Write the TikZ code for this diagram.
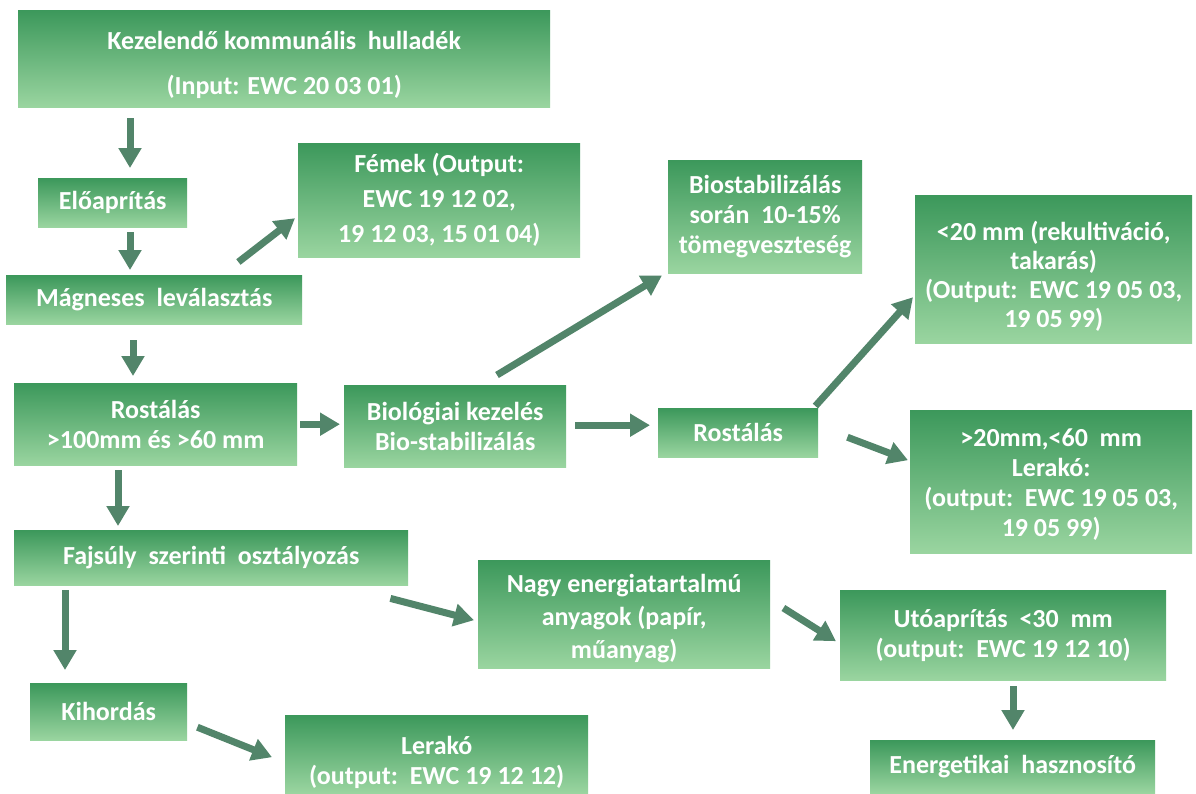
\documentclass[tikz,border=0pt]{standalone}
\usepackage{fontspec}
\setmainfont{Carlito}
\usetikzlibrary{arrows.meta,calc}
\definecolor{gtop}{HTML}{3C985B}
\definecolor{gbot}{HTML}{9AD5A0}
\definecolor{arrc}{HTML}{52856A}
\tikzset{
  box/.style={anchor=north west, inner sep=0pt, top color=gtop, bottom color=gbot, draw=none,
    text=white, font=\bfseries\fontsize{26}{30}\selectfont, align=center},
  arr/.style={draw=arrc, line width=7pt, -{Triangle[width=22pt,length=20pt]}, fill=arrc}
}
\begin{document}
\begin{tikzpicture}[x=1pt,y=-1pt]
\useasboundingbox[fill=white] (0,0) rectangle (1196,793);
\node[box, minimum width=532pt, minimum height=97pt, font=\bfseries\fontsize{26}{45}\selectfont] (k) at (18,10) {\rule{0pt}{30pt}Kezelendő kommunális\ \ hulladék\\(Input: EWC 20 03 01)};
\node[box, minimum width=149pt, minimum height=49pt] (elo) at (38,178) {Előaprítás};
\node[box, minimum width=282pt, minimum height=114pt, font=\bfseries\fontsize{26}{35}\selectfont] (fem) at (298,143) {Fémek (Output:\\EWC 19 12 02,\\19 12 03, 15 01 04)};
\node[box, minimum width=296pt, minimum height=49pt] (mag) at (6,275) {Mágneses\ \ leválasztás};
\node[box, minimum width=283pt, minimum height=82pt] (ros1) at (14,383) {Rostálás\\>100mm és >60 mm};
\node[box, minimum width=222pt, minimum height=82pt] (bio) at (344,385) {Biológiai kezelés\\Bio-stabilizálás};
\node[box, minimum width=194pt, minimum height=113pt] (bst) at (668,160) {Biostabilizálás\\során\ \ 10-15\%\\tömegveszteség};
\node[box, minimum width=160pt, minimum height=49pt] (ros2) at (658,408) {Rostálás};
\node[box, minimum width=277pt, minimum height=148pt, font=\bfseries\fontsize{26}{29}\selectfont] (lt20) at (915,195) {\rule{0pt}{34pt}<20 mm (rekultiváció,\\takarás)\\(Output:\ \ EWC 19 05 03,\\19 05 99)};
\node[box, minimum width=282pt, minimum height=143pt, font=\bfseries\fontsize{26}{30}\selectfont] (gt20) at (910,410) {\rule{0pt}{24pt}>20mm,<60\ \ mm\\Lerakó:\\(output:\ \ EWC 19 05 03,\\19 05 99)};
\node[box, minimum width=394pt, minimum height=55pt] (faj) at (14,530) {Fajsúly\ \ szerinti\ \ osztályozás};
\node[box, minimum width=292pt, minimum height=108pt, font=\bfseries\fontsize{26}{33}\selectfont] (nagy) at (478,560) {\rule{0pt}{26pt}Nagy energiatartalmú\\anyagok (papír,\\műanyag)};
\node[box, minimum width=157pt, minimum height=57pt] (kih) at (30,683) {Kihordás};
\node[box, minimum width=303pt, minimum height=78pt] (ler) at (285,715) {\rule{0pt}{34pt}Lerakó\\(output:\ \ EWC 19 12 12)};
\node[box, minimum width=326pt, minimum height=90pt] (uto) at (840,590) {Utóaprítás\ \ <30\ \ mm\\(output:\ \ EWC 19 12 10)};
\node[box, minimum width=285pt, minimum height=53pt] (ene) at (870,740) {Energetikai\ \ hasznosító};
% arrows
\draw[arr] ($(k.south west)+(112,11)$) -- ($(elo.north west)+(92,-10)$);
\draw[arr] ($(elo.south west)+(92,5)$) -- ($(mag.north west)+(124,-5)$);
\draw[arr] ($(mag.north east)+(-64,-13)$) -- ($(fem.west)+(-3,18)$);
\draw[arr] ($(mag.south west)+(127,16)$) -- ($(ros1.north west)+(119,-7)$);
\draw[arr] ($(ros1.east)+(3,0)$) -- ($(bio.west)+(-4,-2)$);
\draw[arr] ($(bio.north west)+(153,-10)$) -- ($(bst.south west)+(-6,2)$);
\draw[arr] ($(bio.east)+(9,-1)$) -- ($(ros2.west)+(-8,-7.5)$);
\draw[arr] ($(ros2.north east)+(-3,-2)$) -- ($(lt20.west)+(-2,28)$);
\draw[arr] ($(ros2.east)+(29,4.5)$) -- ($(gt20.west)+(-2,-21.5)$);
\draw[arr] ($(ros1.south west)+(104,5)$) -- ($(faj.north west)+(104,-4)$);
\draw[arr] ($(faj.south west)+(51,5)$) -- ($(kih.north west)+(35,-13)$);
\draw[arr] ($(faj.south east)+(-18,13)$) -- ($(nagy.west)+(-4,6)$);
\draw[arr] ($(kih.east)+(10,15.5)$) -- ($(ler.west)+(-13,3)$);
\draw[arr] ($(nagy.north east)+(13,48)$) -- ($(uto.west)+(-4,6)$);
\draw[arr] ($(uto.south west)+(173,6)$) -- ($(ene.north west)+(143,-10)$);
\end{tikzpicture}
\end{document}
